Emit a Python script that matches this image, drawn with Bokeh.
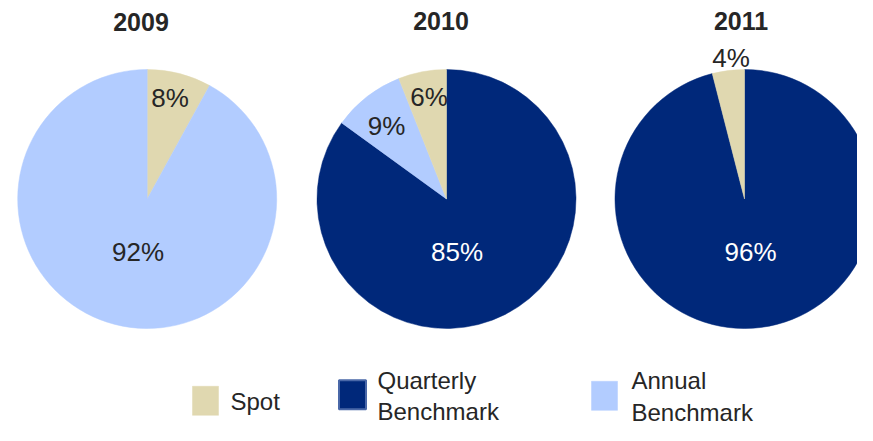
import numpy as np
from bokeh.plotting import figure
from bokeh.models import Range1d
from bokeh.core.properties import value
from bokeh.embed import file_html
from bokeh.resources import INLINE

# ---------------- data ----------------
years = ["2009", "2010", "2011"]
categories = ["Spot", "Quarterly Benchmark", "Annual Benchmark"]
spot = [8, 6, 4]
quarterly = [0, 85, 96]
annual = [92, 9, 0]
# clockwise slice order, starting at 12 o'clock, for each year
slice_order = [
    ["Spot", "Annual Benchmark"],
    ["Quarterly Benchmark", "Annual Benchmark", "Spot"],
    ["Quarterly Benchmark", "Spot"],
]
legend_labels = ["Spot", "Quarterly\nBenchmark", "Annual\nBenchmark"]

# ---------------- style / layout ----------------
colors = {"Spot": "#E0D8B0", "Quarterly Benchmark": "#00287A", "Annual Benchmark": "#B2CCFF"}
label_colors = {"Spot": "#262626", "Quarterly Benchmark": "#FFFFFF", "Annual Benchmark": "#262626"}
FONT = "Liberation Sans"
W, H = 857, 425


def X(rx):
    return rx


def Y(ry):
    return H - ry


pie_centers = [(146.7, 198.5), (446.0, 198.5), (744.0, 198.5)]
radius = 129.5
title_pos = [(140.5, 21), (440.5, 20.5), (740.5, 20.5)]
# label centre offsets (dx, dy) from pie centre
label_off = [
    {"Spot": (22.8, -101), "Annual Benchmark": (-9.2, 52.5)},
    {"Quarterly Benchmark": (10.5, 53), "Annual Benchmark": (-60, -73.5), "Spot": (-17.5, -102)},
    {"Quarterly Benchmark": (6, 52.5), "Spot": (-13.5, -141.5)},
]
LEG_SHIFT = 18
legend_box = [(205, 418.3, 26, 29), (352, 412.3, 27, 29), (604, 413.3, 26, 29)]
legend_text = [(230, [419]), (377, [398, 429]), (631, [398, 429.5])]

p = figure(width=W, height=H, output_backend="svg", toolbar_location=None,
           x_range=Range1d(0, W), y_range=Range1d(0, H), min_border=0)
p.axis.visible = False
p.grid.visible = False
p.outline_line_color = None
p.background_fill_color = "white"
p.border_fill_color = "white"

share = {"Spot": spot, "Quarterly Benchmark": quarterly, "Annual Benchmark": annual}

for i, yr in enumerate(years):
    cx, cy = pie_centers[i]
    vals = [share[c][i] for c in slice_order[i]]
    total = float(sum(vals))
    cum = np.cumsum([0] + vals) / total
    starts = np.pi / 2 - cum[1:] * 2 * np.pi
    ends = np.pi / 2 - cum[:-1] * 2 * np.pi
    p.wedge(x=[X(cx)] * len(vals), y=[Y(cy)] * len(vals), radius=radius,
            start_angle=list(starts), end_angle=list(ends),
            fill_color=[colors[c] for c in slice_order[i]],
            line_color=[colors[c] for c in slice_order[i]], line_width=0.5)
    for c in slice_order[i]:
        dx, dy = label_off[i][c]
        p.text(x=[X(cx + dx)], y=[Y(cy + dy)], text=[f"{share[c][i]}%"],
               text_font=value(FONT), text_font_size="26px",
               text_color=label_colors[c], text_align="center",
               text_baseline="middle")
    tx, ty = title_pos[i]
    p.text(x=[X(tx)], y=[Y(ty)], text=[yr], text_font=value(FONT),
           text_font_size="25px", text_font_style="bold", text_color="#262626",
           text_align="center", text_baseline="middle")

# legend
for j, c in enumerate(categories):
    bx, by, bw, bh = legend_box[j]
    lc = "#4A68A8" if c == "Quarterly Benchmark" else colors[c]
    p.rect(x=[X(bx)], y=[Y(by - LEG_SHIFT)], width=bw, height=bh, fill_color=colors[c],
           line_color=lc, line_width=2 if c == "Quarterly Benchmark" else 0.5)
    lx, centers = legend_text[j]
    for line, cyl in zip(legend_labels[j].split("\n"), centers):
        p.text(x=[X(lx)], y=[Y(cyl - LEG_SHIFT)], text=[line], text_font=value(FONT),
               text_font_size="24px", text_color="#262626", text_align="left",
               text_baseline="middle")

open("out.html", "w").write(file_html(p, INLINE))
